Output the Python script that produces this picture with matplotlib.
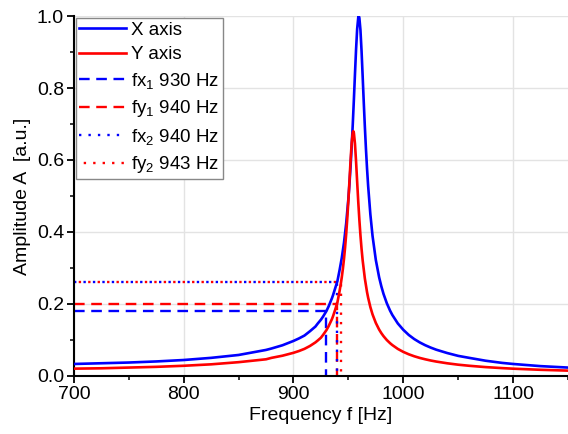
import matplotlib
matplotlib.use("Agg")
import matplotlib.pyplot as plt
from matplotlib.ticker import MultipleLocator, FormatStrFormatter

plt.rcParams['font.family'] = ['Liberation Sans', 'DejaVu Sans']
plt.rcParams['mathtext.fontset'] = 'custom'
plt.rcParams['mathtext.rm'] = 'Liberation Sans'
plt.rcParams['mathtext.it'] = 'Liberation Sans:italic'

# ---- data ----
freq_x = [700, 725, 750, 775, 800, 825, 850, 875, 880, 890, 900, 905, 910, 915, 920, 922,
          925, 927, 930, 932, 935, 936, 938, 940, 942, 944, 946, 948, 950, 951, 952, 953,
          954, 955, 956, 957, 958, 959, 959.5, 960, 961, 962, 963, 964, 965, 966, 967, 968,
          970, 972, 975, 978, 980, 982, 985, 988, 990, 995, 1000, 1005, 1010, 1015, 1020,
          1025, 1030, 1040, 1050, 1060, 1075, 1090, 1100, 1125, 1150]
amp_x = [0.033, 0.035, 0.037, 0.040, 0.044, 0.050, 0.058, 0.072, 0.076, 0.085, 0.097, 0.104,
         0.112, 0.124, 0.137, 0.145, 0.156, 0.165, 0.180, 0.193, 0.2155, 0.224, 0.2435,
         0.263, 0.294, 0.328, 0.370, 0.4235, 0.492, 0.534, 0.582, 0.637, 0.699, 0.767,
         0.8385, 0.907, 0.964, 0.996, 1.0, 0.995, 0.961, 0.903, 0.833, 0.761, 0.693, 0.631,
         0.576, 0.528, 0.4497, 0.389, 0.322, 0.274, 0.249, 0.2277, 0.2018, 0.181, 0.1694,
         0.1457, 0.128, 0.1136, 0.1022, 0.0929, 0.0851, 0.0785, 0.0727, 0.0634, 0.0555,
         0.050, 0.042, 0.036, 0.033, 0.027, 0.023]

freq_y = [700, 725, 750, 775, 800, 825, 850, 875, 880, 890, 900, 905, 910, 915, 920, 922,
          925, 927, 930, 932, 935, 936, 938, 940, 942, 943, 944, 945, 946, 947, 948, 949,
          950, 951, 952, 953, 954, 954.5, 955, 956, 957, 958, 959, 960, 961, 962, 963, 965,
          967, 968, 970, 972, 975, 978, 980, 982, 985, 988, 990, 995, 1000, 1005, 1010,
          1015, 1020, 1025, 1030, 1040, 1050, 1060, 1075, 1090, 1100, 1125, 1150]
amp_y = [0.020, 0.021, 0.023, 0.025, 0.028, 0.032, 0.038, 0.046, 0.050, 0.056, 0.064, 0.069,
         0.075, 0.083, 0.093, 0.098, 0.106, 0.114, 0.127, 0.138, 0.1575, 0.1654, 0.184,
         0.204, 0.236, 0.2538, 0.274, 0.2975, 0.3248, 0.3567, 0.394, 0.4374, 0.487, 0.5423,
         0.5986, 0.647, 0.6763, 0.68, 0.6756, 0.6454, 0.5958, 0.539, 0.4838, 0.4339, 0.3904,
         0.3531, 0.3213, 0.2706, 0.2326, 0.2172, 0.1914, 0.1708, 0.147, 0.1287, 0.1188,
         0.1103, 0.0995, 0.0907, 0.0856, 0.0749, 0.0666, 0.0599, 0.0544, 0.0498, 0.046,
         0.0426, 0.0397, 0.0349, 0.031, 0.028, 0.0243, 0.0215, 0.0199, 0.0168, 0.0145]

# marker frequencies and amplitude levels
ref_labels = ['fx$\\mathregular{_1}$ 930 Hz', 'fy$\\mathregular{_1}$ 940 Hz',
              'fx$\\mathregular{_2}$ 940 Hz', 'fy$\\mathregular{_2}$ 943 Hz']
ref_freqs = [930, 940, 940, 943]
ref_levels = [0.18, 0.20, 0.26, 0.26]
ref_colors = ['#0000ff', '#ff0000', '#0000ff', '#ff0000']
ref_styles = [(0, (4.5, 2.8)), (0, (4.5, 2.8)), (0, (1, 3)), (2, (1, 3))]

x_min, x_max = 700, 1150
y_min, y_max = 0.0, 1.0

fig = plt.figure(figsize=(5.68, 4.34), dpi=100)
ax = fig.add_axes([0.13, 0.134, 0.87, 0.829])

ax.grid(True, which='major', color='#e3e3e3', linewidth=1.0, zorder=0)
ax.set_axisbelow(True)

ax.plot(freq_x, amp_x, color='#0000ff', lw=1.9, label='X axis', zorder=3)
ax.plot(freq_y, amp_y, color='#ff0000', lw=1.9, label='Y axis', zorder=3)

for lab, f, lv, c, ls in zip(ref_labels, ref_freqs, ref_levels, ref_colors, ref_styles):
    ax.plot([x_min, f, f], [lv, lv, y_min], color=c, lw=1.7, linestyle=ls, label=lab, zorder=2)

ax.set_xlim(x_min, x_max)
ax.set_ylim(y_min, y_max)
ax.xaxis.set_major_locator(MultipleLocator(100))
ax.xaxis.set_minor_locator(MultipleLocator(50))
ax.yaxis.set_major_locator(MultipleLocator(0.2))
ax.yaxis.set_minor_locator(MultipleLocator(0.1))
ax.yaxis.set_major_formatter(FormatStrFormatter('%.1f'))

for s in ['top', 'right']:
    ax.spines[s].set_visible(False)
for s in ['left', 'bottom']:
    ax.spines[s].set_linewidth(1.5)
ax.tick_params(which='major', direction='out', length=5, width=1.3, labelsize=14, pad=2)
ax.tick_params(which='minor', direction='out', length=3, width=1.1)

ax.set_xlabel('Frequency f [Hz]', fontsize=14, labelpad=3)
ax.set_ylabel('Amplitude A  [a.u.]', fontsize=14, labelpad=4)

leg = ax.legend(loc='upper left', bbox_to_anchor=(0.0, 1.0), fontsize=13.5, frameon=True,
                fancybox=False, framealpha=1.0, edgecolor='#888888', handlelength=2.5,
                handletextpad=0.25, borderpad=0.2, labelspacing=0.4, borderaxespad=0.1)
leg.get_frame().set_linewidth(1.0)

fig.savefig('out.png', dpi=100)
